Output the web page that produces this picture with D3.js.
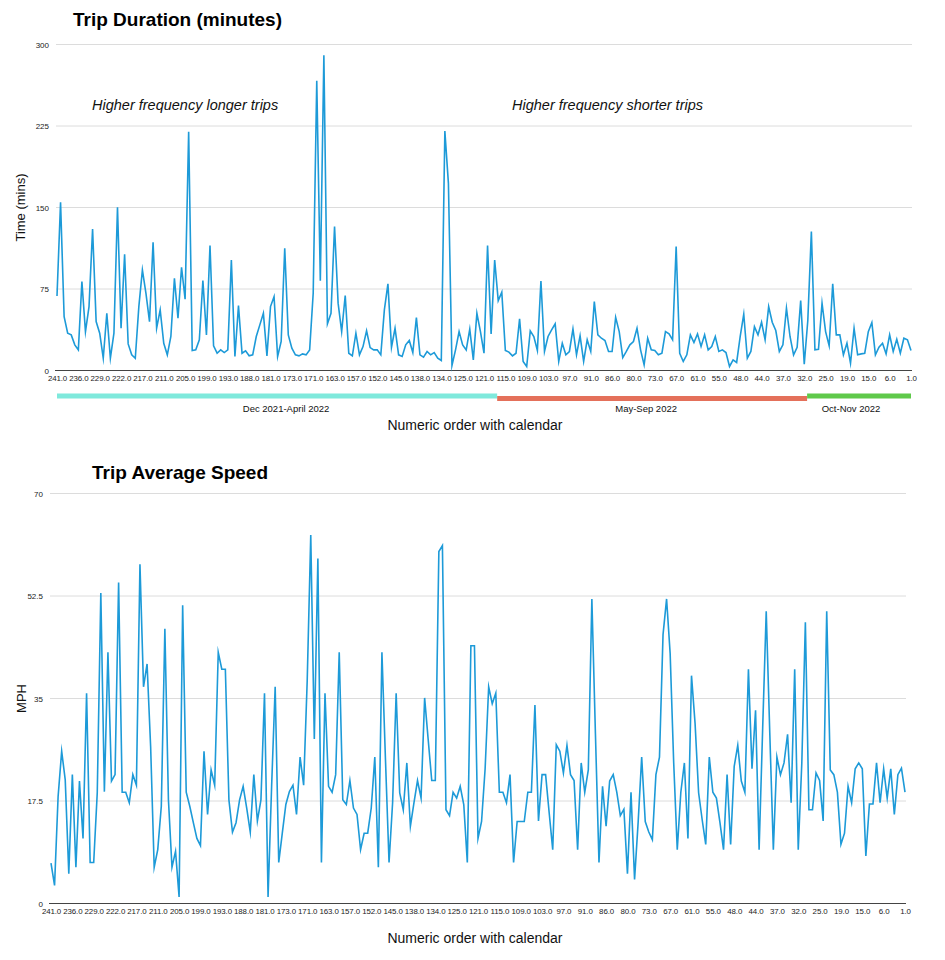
<!DOCTYPE html>
<html>
<head>
<meta charset="utf-8">
<script src="https://cdn.jsdelivr.net/npm/d3@7"></script>
<style>
  html, body { margin: 0; padding: 0; background: #fff; }
  svg { display: block; font-family: "Liberation Sans", Arial, Helvetica, sans-serif; }
</style>
</head>
<body>
<svg id="chart" width="945" height="960"></svg>
<script>
// ---------- DATA ----------
const tripLabels = [241,236,229,222,217,211,205,199,193,188,181,173,171,163,157,152,145,138,134,125,121,
  115,109,103,97,91,86,80,73,67,61,55,48,44,37,32,25,19,15,6,1];

const durationMinutes = [
  68.6,154.7,49.6,34.3,32.8,23.6,19.0,81.8,35.8,58.8,130.2,45.0,34.3,11.3,52.7,11.3,34.3,150.1,38.9,106.9,
  24.5,14.4,11.3,58.8,92.5,71.0,45.0,118.0,38.9,55.8,25.1,14.4,31.3,84.9,48.1,95.0,65.6,219.7,18.4,19.0,
  28.2,82.7,32.8,114.9,22.7,15.9,19.0,16.5,19.0,101.7,12.9,59.7,15.9,18.1,13.5,14.4,31.3,42.0,52.7,13.5,
  58.8,68.0,12.9,26.7,112.4,32.8,20.5,14.4,13.5,15.3,14.4,19.0,71.1,266.6,82.7,290.2,42.9,52.7,132.4,62.0,
  35.8,69.0,15.9,13.5,34.3,14.4,22.0,36.5,21.1,19.0,19.0,14.4,55.8,79.7,21.4,38.9,14.4,12.9,23.6,27.6,
  16.5,48.7,14.4,12.3,17.5,14.4,16.5,11.3,9.2,220.3,172.2,4.6,19.0,35.8,23.6,19.0,38.0,9.8,52.7,35.8,
  15.9,114.9,33.7,101.7,64.3,72.0,18.4,16.9,13.5,15.9,47.5,8.3,3.7,36.5,31.3,18.4,82.4,17.5,31.3,37.4,
  42.9,8.3,25.1,14.4,17.5,38.3,14.4,31.9,8.3,28.2,17.5,63.4,32.8,29.7,27.6,17.5,17.5,49.0,35.8,11.9,
  17.5,23.6,26.7,38.9,19.0,5.2,29.7,19.0,18.4,14.4,15.9,35.8,33.7,28.2,114.0,15.9,8.3,14.4,32.8,25.7,
  33.7,22.1,32.8,19.0,22.1,31.3,17.5,19.0,16.5,3.7,9.8,7.4,31.3,51.8,11.3,17.5,40.4,32.8,44.4,28.2,
  58.8,44.4,36.8,17.5,23.6,57.3,31.3,14.4,21.4,64.3,5.8,46.0,127.8,19.0,19.6,61.9,35.8,22.7,79.7,32.8,
  32.8,14.4,25.1,6.7,38.9,14.4,15.3,15.9,35.8,44.1,14.4,21.4,25.1,15.3,32.8,17.5,28.8,15.9,29.7,28.2,
  18.4
];

const speedMph = [
  6.9,3.1,18.3,26.0,21.1,5.1,22.0,6.2,20.9,11.1,35.9,7.0,7.0,18.9,53.0,19.1,42.9,20.9,22.0,54.8,
  19.0,19.0,17.2,22.0,20.2,57.9,37.0,40.9,26.8,6.2,9.2,16.6,46.9,17.7,6.2,8.9,1.1,50.9,19.0,16.6,
  13.8,11.1,9.9,26.0,15.2,22.8,20.2,42.9,40.0,40.0,17.7,12.2,13.8,17.7,20.0,16.3,12.2,22.0,14.1,17.7,
  35.9,1.1,20.0,37.0,7.0,12.0,16.9,19.1,20.2,15.2,25.0,20.2,38.0,62.9,28.1,58.9,7.0,35.9,20.0,19.0,
  22.0,42.9,17.7,16.9,21.0,16.3,15.2,9.2,12.0,12.0,16.3,25.0,6.2,42.9,24.5,7.0,17.2,35.9,18.9,16.0,
  24.0,13.2,17.2,21.0,18.0,35.1,28.0,21.0,21.0,60.1,61.1,16.0,15.0,19.0,18.0,20.0,16.9,7.0,44.0,44.0,
  11.1,14.0,23.0,37.0,34.1,35.9,19.0,19.0,17.2,22.0,7.0,14.0,14.0,14.0,19.0,19.0,33.9,14.1,22.0,22.0,
  15.5,9.2,27.1,26.0,22.3,27.0,22.0,21.0,9.2,24.0,19.0,22.8,52.0,29.0,7.0,20.0,13.2,20.9,22.0,19.0,
  15.0,16.1,5.1,19.0,4.1,13.8,25.0,14.0,12.2,10.9,22.0,25.0,45.9,52.0,42.7,24.0,9.2,19.0,24.0,11.1,
  38.9,30.8,18.9,14.3,10.1,25.0,19.0,18.0,13.8,9.2,22.0,10.1,23.4,27.0,20.9,19.0,40.0,23.0,33.0,9.2,
  29.9,49.9,29.1,9.2,25.0,22.0,24.0,28.9,17.2,40.0,9.2,24.0,48.0,16.0,16.0,22.3,21.0,14.1,49.9,22.8,
  22.0,19.0,10.1,12.0,20.0,17.2,23.0,24.0,23.0,8.1,17.0,17.0,24.0,17.2,23.0,18.0,23.0,15.2,22.0,23.1,
  19.0
];

const durationTicks = [0, 75, 150, 225, 300];
const speedTicks = [0, 17.5, 35, 52.5, 70];

const periods = ["Dec 2021-April 2022", "May-Sep 2022", "Oct-Nov 2022"];
const periodStart = [0, 123.7, 210.8];
const periodEnd = [123.7, 210.8, 240];
const periodColors = ["#7fe9dc", "#e4705a", "#5fc94a"];

const annotations = ["Higher frequency longer trips", "Higher frequency shorter trips"];

// ---------- DRAW ----------
const svg = d3.select("#chart");
const lineColor = "#1d9ad8";
const gridColor = "#dcdcdc";
const labelIdx = d3.range(0, 241, 6);

function panel(opts) {
  const g = svg.append("g");
  const x = d3.scaleLinear().domain([0, 240]).range([opts.x0, opts.x1]);
  const y = d3.scaleLinear().domain([0, opts.ymax]).range([opts.yBottom, opts.yTop]);

  g.append("text").attr("x", opts.titleX).attr("y", opts.titleY)
    .attr("font-size", 19).attr("font-weight", "bold").attr("fill", "#000")
    .text(opts.title);

  g.selectAll("line.grid").data(opts.ticks.filter(t => t > 0)).join("line")
    .attr("class", "grid")
    .attr("x1", opts.x0 - 1).attr("x2", opts.x1 + 1)
    .attr("y1", d => y(d)).attr("y2", d => y(d))
    .attr("stroke", gridColor).attr("stroke-width", 1);

  const ya = g.append("g").attr("transform", `translate(${opts.x0 - 8},0)`)
    .call(d3.axisLeft(y).tickValues(opts.ticks).tickSize(0).tickPadding(0)
      .tickFormat(d => String(d)));
  ya.select(".domain").remove();
  ya.selectAll("text").attr("font-size", 8).attr("fill", "#222")
    .attr("font-family", "'Liberation Sans', Arial, sans-serif");

  g.append("text")
    .attr("transform", `translate(${opts.yTitleX},${(opts.yTop + opts.yBottom) / 2}) rotate(-90)`)
    .attr("text-anchor", "middle").attr("font-size", 13).attr("fill", "#111")
    .text(opts.yTitle);

  const xa = g.append("g").attr("transform", `translate(0,${opts.yBottom})`)
    .call(d3.axisBottom(x).tickValues(labelIdx).tickSize(0).tickPadding(5)
      .tickFormat(i => tripLabels[i / 6].toFixed(1)));
  xa.select(".domain").attr("stroke", "#444").attr("stroke-width", 1.2)
    .attr("d", `M${opts.x0 - 2},0H${opts.x1 + 1}`);
  xa.selectAll("text").attr("font-size", 7.9).attr("fill", "#222")
    .attr("letter-spacing", -0.1)
    .attr("font-family", "'Liberation Sans', Arial, sans-serif");

  g.append("path").datum(opts.values)
    .attr("fill", "none").attr("stroke", lineColor).attr("stroke-width", 1.6)
    .attr("stroke-linejoin", "miter").attr("stroke-miterlimit", 10)
    .attr("d", d3.line().x((d, i) => x(i)).y(d => y(d)));

  return { g, x, y };
}

const topPanel = panel({
  title: "Trip Duration (minutes)", titleX: 73, titleY: 26,
  x0: 57, x1: 911, yTop: 44.5, yBottom: 370.5, ymax: 300, ticks: durationTicks,
  yTitle: "Time (mins)", yTitleX: 25, values: durationMinutes
});

topPanel.g.selectAll("text.annot").data(annotations).join("text")
  .attr("class", "annot")
  .attr("x", (d, i) => i === 0 ? 92 : 512).attr("y", 110)
  .attr("font-size", 14.5).attr("font-style", "italic").attr("fill", "#111")
  .text(d => d);

topPanel.g.selectAll("rect.period").data(periods).join("rect")
  .attr("class", "period")
  .attr("x", (d, i) => topPanel.x(periodStart[i]))
  .attr("width", (d, i) => topPanel.x(periodEnd[i]) - topPanel.x(periodStart[i]))
  .attr("y", (d, i) => i === 1 ? 396 : 393.5).attr("height", 5)
  .attr("fill", (d, i) => periodColors[i]);

topPanel.g.selectAll("text.period").data(periods).join("text")
  .attr("class", "period")
  .attr("x", (d, i) => (topPanel.x(periodStart[i]) + topPanel.x(periodEnd[i])) / 2 + (i === 0 ? 9 : i === 1 ? -6 : -8))
  .attr("y", 412).attr("text-anchor", "middle")
  .attr("font-size", 9.5).attr("fill", "#111").text(d => d);

svg.append("text").attr("x", 475).attr("y", 430).attr("text-anchor", "middle")
  .attr("font-size", 14).attr("fill", "#111").text("Numeric order with calendar");

const bottomPanel = panel({
  title: "Trip Average Speed", titleX: 92, titleY: 479,
  x0: 51, x1: 905, yTop: 493.5, yBottom: 903.5, ymax: 70, ticks: speedTicks,
  yTitle: "MPH", yTitleX: 26, values: speedMph
});

svg.append("text").attr("x", 475).attr("y", 943).attr("text-anchor", "middle")
  .attr("font-size", 14).attr("fill", "#111").text("Numeric order with calendar");
</script>
</body>
</html>
